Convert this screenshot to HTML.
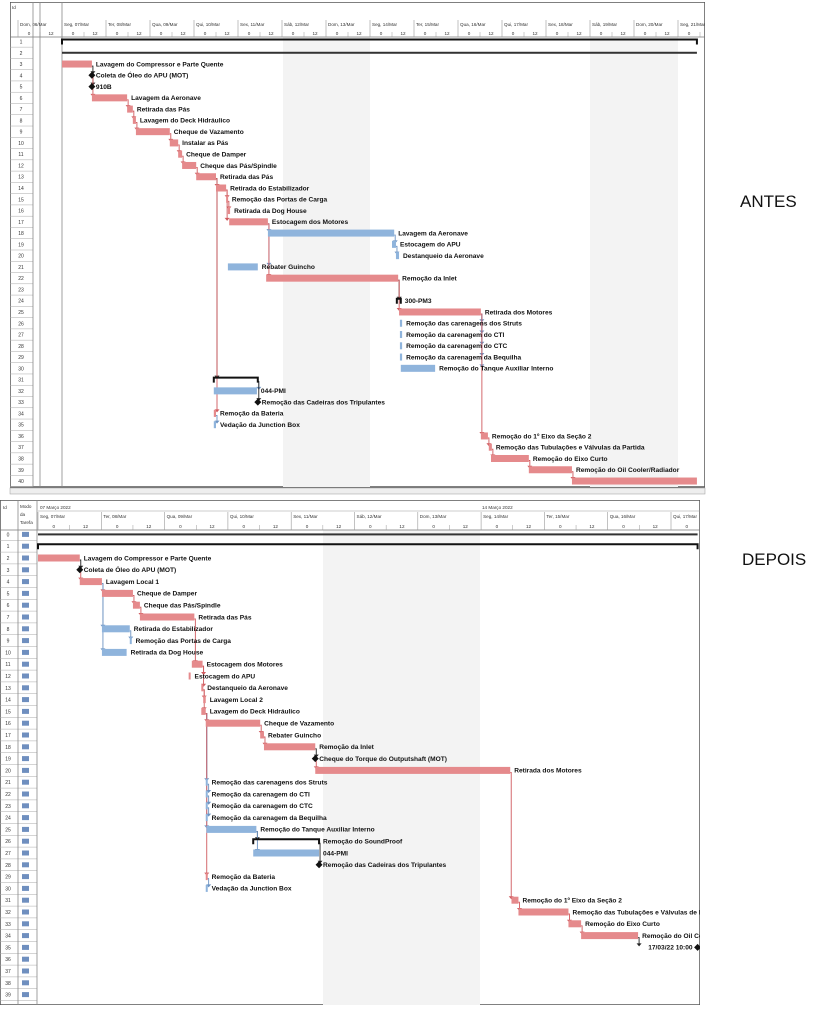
<!DOCTYPE html>
<html><head><meta charset="utf-8"><style>
html,body{margin:0;padding:0;background:#fff;width:823px;height:1010px;overflow:hidden}
svg{display:block}
text{font-family:"Liberation Sans",sans-serif}
.lbl{font-size:6.6px;font-weight:bold;fill:#111}
.hd{font-size:4.6px;fill:#333}
.rn{font-size:5px;fill:#333}
</style></head><body>
<svg id="root" width="823" height="1010" viewBox="0 0 823 1010">
<defs>
<clipPath id="clipTop"><rect x="10" y="2" width="695" height="486"/></clipPath>
<clipPath id="clipBot"><rect x="0" y="500" width="700" height="505"/></clipPath>
</defs>
<g id="topChart" clip-path="url(#clipTop)"></g>
<g id="botChart" clip-path="url(#clipBot)"></g>
<text x="740" y="207" font-size="17" fill="#111">ANTES</text>
<text x="742" y="565" font-size="17" fill="#111">DEPOIS</text>
</svg>
<script>
// ---------- TOP (ANTES) data: days from Seg 07/Mar 00:00 ----------
const topRows   = [1,2,3,4,5,6,7,8,9,10,11,12,13,14,15,16,17,18,19,20,21,22,24,25,26,27,28,29,30,31,32,33,34,35,36,37,38,39,40];
const topStart  = [0,0,0,0.68,0.68,0.68,1.48,1.61,1.68,2.45,2.64,2.73,3.05,3.5,3.73,3.77,3.8,4.68,7.5,7.59,3.77,4.64,7.61,7.66,7.68,7.68,7.68,7.68,7.7,3.45,3.45,4.45,3.45,3.45,9.52,9.7,9.75,10.61,11.59];
const topEnd    = [14.43,14.43,0.68,0.68,0.68,1.48,1.61,1.68,2.45,2.64,2.73,3.05,3.5,3.73,3.77,3.82,4.68,7.55,7.59,7.66,4.45,7.64,7.7,9.52,7.73,7.73,7.73,7.73,8.48,4.45,4.43,4.45,3.5,3.5,9.68,9.77,10.61,11.59,14.43];
const topType   = ["S","s","r","m","m","r","r","r","r","r","r","r","r","r","r","r","r","b","b","b","b","r","S","r","b","b","b","b","b","S","b","m","r","b","r","r","r","r","r"];
const topLabels = ["","","Lavagem do Compressor e Parte Quente","Coleta de Óleo do APU (MOT)","910B","Lavagem da Aeronave","Retirada das Pás","Lavagem do Deck Hidráulico","Cheque de Vazamento","Instalar as Pás","Cheque de Damper","Cheque das Pás/Spindle","Retirada das Pás","Retirada do Estabilizador","Remoção das Portas de Carga","Retirada da Dog House","Estocagem dos Motores","Lavagem da Aeronave","Estocagem do APU","Destanqueio da Aeronave","Rebater Guincho","Remoção da Inlet","300-PM3","Retirada dos Motores","Remoção das carenagens dos Struts","Remoção da carenagem do CTI","Remoção da carenagem do CTC","Remoção da carenagem da Bequilha","Remoção do Tanque Auxiliar Interno","","044-PMI","Remoção das Cadeiras dos Tripulantes","Remoção da Bateria","Vedação da Junction Box","Remoção do 1º Eixo da Seção 2","Remoção das Tubulações e Válvulas da Partida","Remoção do Eixo Curto","Remoção do Oil Cooler/Radiador",""];
const topPred   = [-1,-1,-1,2,3,3,5,6,7,8,9,10,11,12,13,14,13,16,17,18,16,16,21,21,23,23,23,23,23,12,29,29,12,32,23,34,35,36,37];
const topDays   = ["Dom, 06/Mar","Seg, 07/Mar","Ter, 08/Mar","Qua, 09/Mar","Qui, 10/Mar","Sex, 11/Mar","Sáb, 12/Mar","Dom, 13/Mar","Seg, 14/Mar","Ter, 15/Mar","Qua, 16/Mar","Qui, 17/Mar","Sex, 18/Mar","Sáb, 19/Mar","Dom, 20/Mar","Seg, 21/Mar"];

// ---------- BOTTOM (DEPOIS) data ----------
const botRows   = [0,1,2,3,4,5,6,7,8,9,10,11,12,13,14,15,16,17,18,19,20,21,22,23,24,25,26,27,28,29,30,31,32,33,34,35];
const botStart  = [0,0,0,0.66,0.66,1.01,1.5,1.61,1.01,1.45,1.01,2.43,2.38,2.58,2.61,2.58,2.65,3.51,3.57,4.38,4.38,2.65,2.65,2.65,2.65,2.66,3.4,3.4,4.44,2.65,2.65,7.48,7.59,8.38,8.58,10.42];
const botEnd    = [10.42,10.42,0.66,0.66,1.01,1.5,1.61,2.47,1.45,1.48,1.4,2.6,2.41,2.61,2.65,2.65,3.51,3.57,4.38,4.38,7.46,2.68,2.68,2.68,2.68,3.45,4.44,4.44,4.44,2.68,2.68,7.59,8.38,8.58,9.48,10.42];
const botType   = ["s","S","r","m","r","r","r","r","b","b","b","r","r","r","r","r","r","r","r","m","r","b","b","b","b","b","S","b","m","r","b","r","r","r","r","m"];
const botLabels = ["","","Lavagem do Compressor e Parte Quente","Coleta de Óleo do APU (MOT)","Lavagem Local 1","Cheque de Damper","Cheque das Pás/Spindle","Retirada das Pás","Retirada do Estabilizador","Remoção das Portas de Carga","Retirada da Dog House","Estocagem dos Motores","Estocagem do APU","Destanqueio da Aeronave","Lavagem Local 2","Lavagem do Deck Hidráulico","Cheque de Vazamento","Rebater Guincho","Remoção da Inlet","Cheque do Torque do Outputshaft (MOT)","Retirada dos Motores","Remoção das carenagens dos Struts","Remoção da carenagem do CTI","Remoção da carenagem do CTC","Remoção da carenagem da Bequilha","Remoção do Tanque Auxiliar Interno","Remoção do SoundProof","044-PMI","Remoção das Cadeiras dos Tripulantes","Remoção da Bateria","Vedação da Junction Box","Remoção do 1º Eixo da Seção 2","Remoção das Tubulações e Válvulas de Partida","Remoção do Eixo Curto","Remoção do Oil Cooler/Radiador","17/03/22 10:00"];
const botPred   = [-1,-1,-1,2,3,4,5,6,4,8,4,7,11,11,13,13,15,16,17,18,19,15,21,22,23,15,25,25,26,15,29,20,31,32,33,34];
const botDays   = ["Seg, 07/Mar","Ter, 08/Mar","Qua, 09/Mar","Qui, 10/Mar","Sex, 11/Mar","Sáb, 12/Mar","Dom, 13/Mar","Seg, 14/Mar","Ter, 15/Mar","Qua, 16/Mar","Qui, 17/Mar"];

const NS="http://www.w3.org/2000/svg";
function mk(parent,tag,attrs,txt){const e=document.createElementNS(NS,tag);for(const k in attrs)e.setAttribute(k,attrs[k]);if(txt!==undefined)e.textContent=txt;parent.appendChild(e);return e;}
const RED="#e58a8c",BLUE="#8fb4dc",REDL="#cf5a5e",BLUEL="#6d93c2";

function drawChart(g,cfg){
  const {x0,dayW,yRow,rows,start,end,type,labels,pred,days,left,right,top,hdrBot,bottom,gray,prefix}=cfg;
  const X=d=>x0+d*dayW;
  const fr=mk(g,'rect',{x:left,y:top,width:right-left,height:bottom-top,fill:'#fff',stroke:'#555','stroke-width':1.5});
  
  
  gray.forEach(([a,b])=>{const r=mk(g,'rect',{x:a,y:hdrBot,width:b-a,height:bottom-hdrBot,fill:'#f3f3f3'});
    
    });
  mk(g,'line',{x1:left,y1:hdrBot,x2:right,y2:hdrBot,stroke:'#777','stroke-width':0.8});
  days.forEach((d,i)=>{
    const xs=cfg.dayOffset+i*dayW;
    if(xs>right)return;
    mk(g,'line',{x1:xs,y1:cfg.dayY-6,x2:xs,y2:hdrBot,stroke:'#999','stroke-width':0.6});
    const t=mk(g,'text',{x:xs+2,y:cfg.dayY,class:'hd'},d);
    
    
    [0,0.5].forEach((f,j)=>{const xx=xs+f*dayW+dayW*0.25;if(xx<right-4)mk(g,'text',{x:xx,y:hdrBot-2,class:'hd','text-anchor':'middle'},j?'12':'0');});
    mk(g,'line',{x1:xs+dayW/2,y1:hdrBot-5,x2:xs+dayW/2,y2:hdrBot,stroke:'#999','stroke-width':0.5});
  });
  for(let r=cfg.rowFrom;r<=cfg.rowTo;r++){
    const y=yRow(r);
    mk(g,'line',{x1:left,y1:y+cfg.pitch/2,x2:cfg.colEnd,y2:y+cfg.pitch/2,stroke:'#aaa','stroke-width':0.5});
    const t=mk(g,'text',{x:cfg.numX,y:y+2,class:'rn','text-anchor':'middle'},String(r));
    
    
    if(cfg.mode){const ic=mk(g,'rect',{x:cfg.mode,y:y-2.5,width:7,height:5,fill:'#6f8fbf'});
      
      }
  }
  cfg.cols.forEach(cx=>mk(g,'line',{x1:cx,y1:cfg.colTop,x2:cx,y2:bottom,stroke:'#888','stroke-width':0.8}));
  rows.forEach((r,i)=>{
    const p=pred[i];if(p<0)return;
    const xp=X(end[p]),yp=yRow(rows[p]),y=yRow(r);
    const col=type[i]==='b'?BLUEL:(type[i]==='m'||type[i]==='S'?'#222':REDL);
    const ln=mk(g,'path',{d:`M${xp} ${yp+2} L${xp+1} ${yp+2} L${xp+1} ${y-2}`,fill:'none',stroke:col,'stroke-width':0.9});
    
    
    mk(g,'path',{d:`M${xp-1.5} ${y-4} L${xp+3.5} ${y-4} L${xp+1} ${y-1} Z`,fill:col});
  });
  rows.forEach((r,i)=>{
    const y=yRow(r),xa=X(start[i]),xb=X(end[i]),t=type[i];
    let el;
    if(t==='r'||t==='b'){
      el=mk(g,'rect',{x:xa,y:y-3.5,width:Math.max(2,xb-xa),height:7,fill:t==='r'?RED:BLUE});
    }else if(t==='m'){
      el=mk(g,'path',{d:`M${xa} ${y-3.5} L${xa+3.5} ${y} L${xa} ${y+3.5} L${xa-3.5} ${y} Z`,fill:'#111'});
    }else if(t==='S'){
      el=mk(g,'path',{d:`M${xa} ${y+3} L${xa} ${y-2} L${xb} ${y-2} L${xb} ${y+3}`,fill:'none',stroke:'#111','stroke-width':2});
    }else{
      el=mk(g,'rect',{x:xa,y:y-1,width:xb-xa,height:2,fill:'#333'});
    }
    
    
    if(labels[i]){
      const anchorEnd=(i===rows.length-1&&t==='m');
      const tx=mk(g,'text',{x:anchorEnd?xa-5:xb+4,y:y+2.3,class:'lbl','text-anchor':anchorEnd?'end':'start'},labels[i]);
      
      
    }
  });
}

drawChart(document.getElementById('topChart'),{
  prefix:'antes',x0:62,dayW:44,pitch:11.27,yRow:r=>41.5+(r-1)*11.27,
  rows:topRows,start:topStart,end:topEnd,type:topType,labels:topLabels,pred:topPred,days:topDays,
  left:10,right:705,top:2,hdrBot:37,bottom:487,gray:[[283,370],[590,678]],
  dayOffset:18,dayY:26,rowFrom:1,rowTo:40,numX:21,colEnd:33,cols:[33,40,62],colTop:2,mode:0
});
drawChart(document.getElementById('botChart'),{
  prefix:'depois',x0:38,dayW:63.3,pitch:11.8,yRow:r=>534.4+r*11.8,
  rows:botRows,start:botStart,end:botEnd,type:botType,labels:botLabels,pred:botPred,days:botDays,
  left:0,right:700,top:500,hdrBot:530,bottom:1005,gray:[[323,480]],
  dayOffset:38,dayY:518,rowFrom:0,rowTo:39,numX:8,colEnd:37,cols:[18,37],colTop:500,mode:22
});
const bg=document.getElementById('botChart');
let t1=mk(bg,'text',{x:40,y:509,class:'hd'},'07 Março 2022');


let t2=mk(bg,'text',{x:482,y:509,class:'hd'},'14 Março 2022');


mk(bg,'line',{x1:38,y1:511,x2:700,y2:511,stroke:'#999','stroke-width':0.6});
let h1=mk(bg,'text',{x:3,y:509,class:'hd'},'Id');


let h2=mk(bg,'text',{x:20,y:508,class:'hd'},'Modo');


mk(bg,'text',{x:20,y:516,class:'hd'},'da');
mk(bg,'text',{x:20,y:524,class:'hd'},'Tarefa');
const tg=document.getElementById('topChart');
let h3=mk(tg,'text',{x:12,y:9,class:'hd'},'Id');


const sb=mk(document.getElementById('root'),'rect',{x:10,y:488,width:695,height:6,fill:'#eee',stroke:'#999','stroke-width':0.5});


</script>
</body></html>
